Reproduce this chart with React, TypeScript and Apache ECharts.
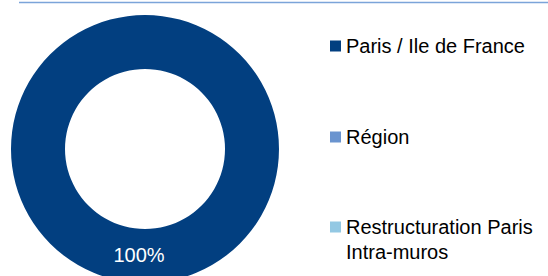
import React, { useEffect, useRef } from "react";
import * as echarts from "echarts";

const categories = ["Paris / Ile de France", "Région", "Restructuration Paris\nIntra-muros"];
const values = [100, 0, 0];
const colors = ["#023f80", "#6a94cf", "#93c8e3"];
const legendY = [46, 137, 227];

export default function App() {
  const ref = useRef<HTMLDivElement>(null);
  useEffect(() => {
    if (!ref.current) return;
    const chart = echarts.init(ref.current, null, { renderer: "svg" });
    const font = "'Liberation Sans', Arial, sans-serif";
    const legendGraphics: any[] = [];
    categories.forEach((c, i) => {
      legendGraphics.push({
        type: "rect",
        shape: { x: 330, y: legendY[i] - 5.5, width: 11, height: 11 },
        style: { fill: colors[i] },
      });
      legendGraphics.push({
        type: "text",
        x: 346,
        y: legendY[i] - 12.5,
        style: {
          text: c,
          fill: "#000",
          font: `20px ${font}`,
          verticalAlign: "top",
          lineHeight: 25,
        },
      });
    });
    chart.setOption({
      animation: false,
      graphic: [
        {
          type: "line",
          shape: { x1: 19, y1: 2.5, x2: 548, y2: 2.5 },
          style: { stroke: "#7ba4d9", lineWidth: 1.5 },
        },
        ...legendGraphics,
      ],
      series: [
        {
          type: "pie",
          center: [145, 149],
          radius: [80, 134],
          startAngle: 90,
          clockwise: true,
          silent: true,
          data: categories.map((c, i) => ({
            name: c,
            value: values[i],
            itemStyle: { color: colors[i] },
          })),
          label: {
            show: true,
            position: "inside",
            color: "#ffffff",
            fontFamily: font,
            fontSize: 20,
            offset: [-6, -4],
            formatter: (p: any) => (p.value > 0 ? `${Math.round(p.percent)}%` : ""),
          },
          labelLine: { show: false },
          emphasis: { disabled: true },
        },
      ],
    });
    return () => chart.dispose();
  }, []);
  return (
    <div
      ref={ref}
      style={{ position: "fixed", left: 0, top: 0, width: 548, height: 276, background: "#fff" }}
    />
  );
}
